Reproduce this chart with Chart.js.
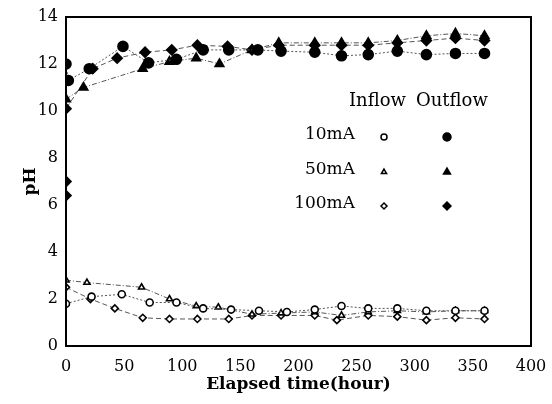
<!DOCTYPE html>
<html>
<head>
<meta charset="utf-8">
<script src="https://cdn.jsdelivr.net/npm/chart.js@4/dist/chart.umd.min.js"></script>
<style>
html,body{margin:0;padding:0;background:#fff;}
#wrap{width:552px;height:404px;}
</style>
</head>
<body>
<div id="wrap"><canvas id="c" width="552" height="404"></canvas></div>
<script>
// ---- data (time in hours, pH) ----
const xTicks = [0, 50, 100, 150, 200, 250, 300, 350, 400];
const yTicks = [0, 2, 4, 6, 8, 10, 12, 14];

const in10T  = [0, 22, 48, 72, 95, 118, 142, 166, 190, 214, 237, 260, 285, 310, 335, 360];
const in10pH = [1.8, 2.1, 2.2, 1.85, 1.85, 1.6, 1.55, 1.5, 1.45, 1.55, 1.7, 1.6, 1.6, 1.5, 1.5, 1.5];

const in50T  = [0, 18, 65, 89, 112, 131, 160, 185, 214, 237, 260, 285, 310, 335, 360];
const in50pH = [2.8, 2.7, 2.5, 2.0, 1.7, 1.65, 1.35, 1.4, 1.45, 1.3, 1.45, 1.5, 1.45, 1.5, 1.5];

const in100T  = [0, 21, 42, 66, 89, 113, 140, 160, 185, 214, 233, 260, 285, 310, 335, 360];
const in100pH = [2.5, 2.0, 1.6, 1.2, 1.15, 1.15, 1.15, 1.3, 1.3, 1.3, 1.1, 1.3, 1.25, 1.1, 1.2, 1.15];

const out10T  = [0, 2, 20, 49, 71, 95, 118, 140, 165, 185, 214, 237, 260, 285, 310, 335, 360];
const out10pH = [12.0, 11.3, 11.8, 12.75, 12.05, 12.2, 12.6, 12.6, 12.6, 12.55, 12.5, 12.35, 12.4, 12.55, 12.4, 12.45, 12.45];

const out50T  = [0, 15, 66, 89, 112, 132, 160, 183, 214, 237, 260, 285, 310, 335, 360];
const out50pH = [10.5, 11.0, 11.8, 12.1, 12.25, 12.0, 12.6, 12.9, 12.9, 12.9, 12.9, 13.0, 13.2, 13.3, 13.2];

const out100T  = [0, 0, 0, 23, 44, 68, 91, 113, 139, 160, 183, 214, 237, 260, 285, 310, 335, 360];
const out100pH = [6.4, 7.0, 10.1, 11.8, 12.25, 12.5, 12.6, 12.8, 12.75, 12.6, 12.8, 12.8, 12.8, 12.8, 12.9, 13.0, 13.1, 13.0];

const legendRows = ["10mA", "50mA", "100mA"];
const legendHead = ["Inflow", "Outflow"];

function pts(t, v){ return t.map((x,i)=>({x:x, y:v[i]})); }

const SERIF = "'DejaVu Serif', 'Liberation Serif', serif";

function ds(label, t, v, style, filled, dash){
  return {
    label: label,
    data: pts(t, v),
    showLine: true,
    borderColor: '#555',
    borderWidth: 1,
    borderDash: dash,
    pointStyle: style,
    pointRadius: filled ? 5 : 3.5,
    pointBorderWidth: 1.6,
    pointBorderColor: '#000',
    pointBackgroundColor: filled ? '#000' : '#fff',
    fill: false
  };
}

const frame = {
  id: 'frame',
  afterDraw(chart){
    const {ctx, chartArea:a} = chart;
    ctx.save();
    ctx.strokeStyle = '#000';
    ctx.lineWidth = 2;
    ctx.strokeRect(a.left, a.top, a.right - a.left, a.bottom - a.top);
    // custom legend
    ctx.fillStyle = '#000';
    ctx.font = "18px " + SERIF;
    ctx.textBaseline = 'middle';
    ctx.textAlign = 'left';
    ctx.fillText(legendHead[0], 349, 101);
    ctx.fillText(legendHead[1], 416, 101);
    ctx.font = "17px " + SERIF;
    const rowsY = [135, 170, 204];
    const styles = ['circle', 'triangle', 'rectRot'];
    ctx.textAlign = 'right';
    legendRows.forEach((r,i)=>{
      ctx.fillStyle = '#000';
      ctx.fillText(r, 355, rowsY[i]);
      ctx.lineWidth = 1.5;
      ctx.strokeStyle = '#000';
      ctx.fillStyle = '#fff';
      Chart.helpers.drawPoint(ctx, {pointStyle: styles[i], radius: 3, rotation: 0, borderWidth: 1.5}, 384, rowsY[i] + 2);
      ctx.fillStyle = '#000';
      Chart.helpers.drawPoint(ctx, {pointStyle: styles[i], radius: 4, rotation: 0, borderWidth: 1.5}, 447, rowsY[i] + 2);
    });
    ctx.restore();
  }
};

new Chart(document.getElementById('c'), {
  type: 'scatter',
  data: {
    datasets: [
      ds('10mA Inflow', in10T, in10pH, 'circle', false, [2,2]),
      ds('50mA Inflow', in50T, in50pH, 'triangle', false, [5,2,1,2]),
      ds('100mA Inflow', in100T, in100pH, 'rectRot', false, [5,3]),
      ds('10mA Outflow', out10T, out10pH, 'circle', true, [2,2]),
      ds('50mA Outflow', out50T, out50pH, 'triangle', true, [5,2,1,2]),
      ds('100mA Outflow', out100T, out100pH, 'rectRot', true, [5,3])
    ]
  },
  options: {
    responsive: false,
    animation: false,
    layout: { padding: { left: 0, top: 17, right: 21, bottom: 0 } },
    plugins: { legend: { display: false }, tooltip: { enabled: false } },
    scales: {
      x: {
        type: 'linear',
        min: 0, max: 400,
        afterBuildTicks(s){ s.ticks = xTicks.map(v=>({value:v})); },
        afterFit(s){ s.height = 58; s.paddingRight = 0; s.paddingLeft = 0; },
        grid: { display: false, drawTicks: false },
        border: { display: false },
        ticks: { color: '#000', font: { family: SERIF, size: 16 }, padding: 11, maxRotation: 0 },
        title: { display: true, text: 'Elapsed time(hour)', color: '#000',
                 font: { family: SERIF, size: 17, weight: 'bold' }, padding: { top: 2, bottom: 9 } }
      },
      y: {
        type: 'linear',
        min: 0, max: 14,
        afterBuildTicks(s){ s.ticks = yTicks.map(v=>({value:v})); },
        afterFit(s){ s.width = 66; s.paddingTop = 0; s.paddingBottom = 0; },
        grid: { display: false, drawTicks: false },
        border: { display: false },
        ticks: { color: '#000', font: { family: SERIF, size: 16 }, padding: 8 },
        title: { display: true, text: 'pH', color: '#000',
                 font: { family: SERIF, size: 17, weight: 'bold' }, padding: { top: 20, bottom: 4 } }
      }
    }
  },
  plugins: [frame]
});
</script>
</body>
</html>
